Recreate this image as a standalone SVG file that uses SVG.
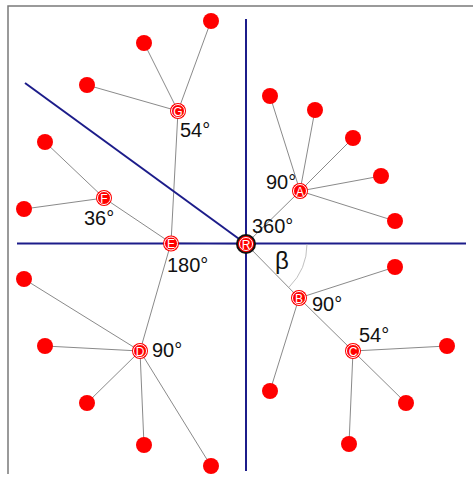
<svg xmlns="http://www.w3.org/2000/svg" width="473" height="477" viewBox="0 0 473 477">
<style>
.edge{stroke:#8a8a8a;stroke-width:1;fill:none}
.axis{stroke:#1c1c8a;stroke-width:2;fill:none}
.leaf{fill:#ff0000}
.inner{fill:#ff0000}
.ring{fill:none;stroke:#ffffff;stroke-width:1}
.nl{font-family:"Liberation Sans",Arial,sans-serif;font-size:12px;fill:#ffffff;text-anchor:middle}
.lbl{font-family:"Liberation Sans",Arial,sans-serif;font-size:20px;fill:#111111}
</style>
<rect x="0" y="0" width="473" height="477" fill="#ffffff"/>
<path d="M8,474 V6 H473" stroke="#7a7a7a" stroke-width="1.5" fill="none"/>
<g id="connectors">
<line class="edge" x1="246" y1="244" x2="300" y2="191"/>
<line class="edge" x1="246" y1="244" x2="299" y2="298"/>
<line class="edge" x1="246" y1="244" x2="171" y2="243"/>
<line class="edge" x1="300" y1="191" x2="270" y2="96"/>
<line class="edge" x1="300" y1="191" x2="315" y2="110"/>
<line class="edge" x1="300" y1="191" x2="353" y2="138"/>
<line class="edge" x1="300" y1="191" x2="381" y2="176"/>
<line class="edge" x1="300" y1="191" x2="395" y2="221"/>
<line class="edge" x1="299" y1="298" x2="353" y2="351"/>
<line class="edge" x1="299" y1="298" x2="395" y2="267"/>
<line class="edge" x1="299" y1="298" x2="270" y2="391"/>
<line class="edge" x1="353" y1="351" x2="447" y2="346"/>
<line class="edge" x1="353" y1="351" x2="406" y2="403"/>
<line class="edge" x1="353" y1="351" x2="349" y2="444"/>
<line class="edge" x1="171" y1="243" x2="104" y2="198"/>
<line class="edge" x1="171" y1="243" x2="178" y2="111"/>
<line class="edge" x1="171" y1="243" x2="140" y2="351"/>
<line class="edge" x1="104" y1="198" x2="45" y2="142"/>
<line class="edge" x1="104" y1="198" x2="24" y2="209"/>
<line class="edge" x1="178" y1="111" x2="211" y2="21"/>
<line class="edge" x1="178" y1="111" x2="144" y2="43"/>
<line class="edge" x1="178" y1="111" x2="87" y2="85"/>
<line class="edge" x1="140" y1="351" x2="24" y2="279"/>
<line class="edge" x1="140" y1="351" x2="45" y2="346"/>
<line class="edge" x1="140" y1="351" x2="87" y2="403"/>
<line class="edge" x1="140" y1="351" x2="144" y2="445"/>
<line class="edge" x1="140" y1="351" x2="211" y2="466"/>
</g>
<g id="axes">
<line class="axis" x1="246" y1="19" x2="246" y2="471"/>
<line class="axis" x1="17" y1="243.5" x2="466" y2="243.5"/>
<line class="axis" x1="25" y1="83" x2="246" y2="244"/>
<path d="M307,244 A61,61 0 0 1 289.1,287.1" stroke="#b0b0b0" stroke-width="0.8" fill="none"/>
</g>
<g id="leaves">
<circle class="leaf" cx="270" cy="96" r="8"/>
<circle class="leaf" cx="315" cy="110" r="8"/>
<circle class="leaf" cx="353" cy="138" r="8"/>
<circle class="leaf" cx="381" cy="176" r="8"/>
<circle class="leaf" cx="395" cy="221" r="8"/>
<circle class="leaf" cx="395" cy="267" r="8"/>
<circle class="leaf" cx="270" cy="391" r="8"/>
<circle class="leaf" cx="447" cy="346" r="8"/>
<circle class="leaf" cx="406" cy="403" r="8"/>
<circle class="leaf" cx="349" cy="444" r="8"/>
<circle class="leaf" cx="45" cy="142" r="8"/>
<circle class="leaf" cx="24" cy="209" r="8"/>
<circle class="leaf" cx="211" cy="21" r="8"/>
<circle class="leaf" cx="144" cy="43" r="8"/>
<circle class="leaf" cx="87" cy="85" r="8"/>
<circle class="leaf" cx="24" cy="279" r="8"/>
<circle class="leaf" cx="45" cy="346" r="8"/>
<circle class="leaf" cx="87" cy="403" r="8"/>
<circle class="leaf" cx="144" cy="445" r="8"/>
<circle class="leaf" cx="211" cy="466" r="8"/>
</g>
<g id="node-A"><circle class="inner" cx="300" cy="191" r="8"/><circle class="ring" cx="300" cy="191" r="6.5"/><text class="nl" x="300" y="195.5">A</text></g>
<g id="node-B"><circle class="inner" cx="299" cy="298" r="8"/><circle class="ring" cx="299" cy="298" r="6.5"/><text class="nl" x="299" y="302.5">B</text></g>
<g id="node-C"><circle class="inner" cx="353" cy="351" r="8"/><circle class="ring" cx="353" cy="351" r="6.5"/><text class="nl" x="353" y="355.5">C</text></g>
<g id="node-D"><circle class="inner" cx="140" cy="351" r="8"/><circle class="ring" cx="140" cy="351" r="6.5"/><text class="nl" x="140" y="355.5">D</text></g>
<g id="node-E"><circle class="inner" cx="171" cy="243.5" r="8"/><circle class="ring" cx="171" cy="243.5" r="6.5"/><text class="nl" x="171" y="248">E</text></g>
<g id="node-F"><circle class="inner" cx="104" cy="198" r="8"/><circle class="ring" cx="104" cy="198" r="6.5"/><text class="nl" x="104" y="202.5">F</text></g>
<g id="node-G"><circle class="inner" cx="178" cy="111" r="8"/><circle class="ring" cx="178" cy="111" r="6.5"/><text class="nl" x="178" y="115.5">G</text></g>
<g id="node-R"><circle cx="246" cy="244" r="9" fill="#ff0000" stroke="#111111" stroke-width="2"/><circle class="ring" cx="246" cy="244" r="6.5"/><text class="nl" x="246" y="248.5">R</text></g>
<g id="labels">
<text class="lbl" x="180" y="137">54°</text>
<text class="lbl" x="84" y="225">36°</text>
<text class="lbl" x="167" y="272">180°</text>
<text class="lbl" x="152" y="357">90°</text>
<text class="lbl" x="266" y="189">90°</text>
<text class="lbl" x="252" y="233">360°</text>
<text class="lbl" x="312" y="311">90°</text>
<text class="lbl" x="359" y="342">54°</text>
<text class="lbl" x="275" y="269" style="font-size:24px">β</text>
</g>
</svg>
